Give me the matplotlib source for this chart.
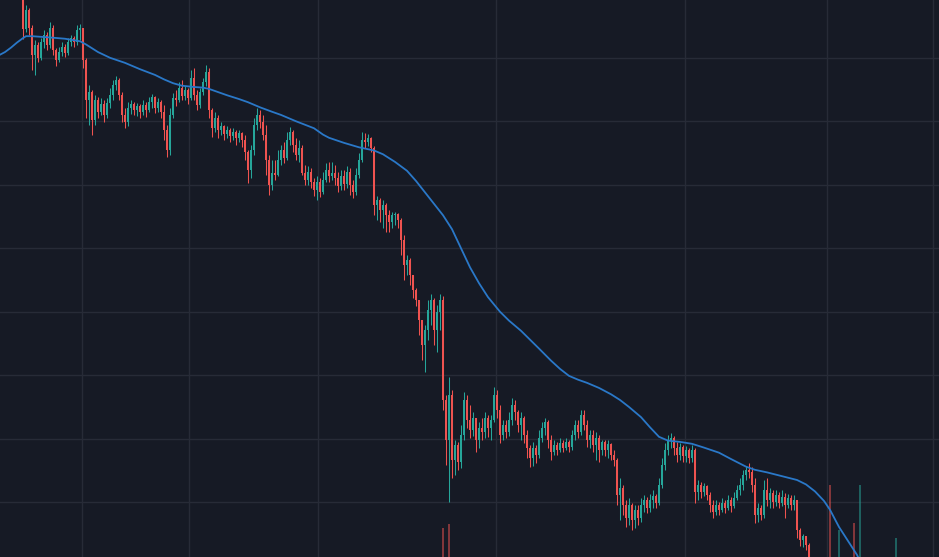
import matplotlib.pyplot as plt
import numpy as np

# price candles (open of each candle = previous close)
open_first = 100.0
close = [
    94.5, 97.5, 94.7, 90.4, 92.0, 90.0, 92.5, 93.6, 92.0, 94.7,
    91.2, 89.6, 90.9, 91.7, 90.8, 92.5, 93.1, 92.5, 94.4, 94.7,
    89.6, 83.4, 84.6, 80.2, 83.4, 81.5, 82.7, 81.0, 82.9, 84.1,
    85.7, 86.5, 84.1, 81.0, 79.9, 82.1, 82.7, 81.8, 82.4, 81.5,
    82.6, 81.8, 83.0, 83.8, 82.1, 83.0, 81.5, 78.6, 75.5, 81.0,
    83.7, 83.4, 85.2, 84.0, 84.9, 83.7, 86.8, 84.1, 82.6, 84.6,
    86.2, 87.8, 81.8, 79.0, 80.5, 78.6, 79.3, 78.0, 78.6, 77.7,
    78.3, 77.4, 78.2, 77.1, 75.2, 72.3, 75.5, 79.4, 81.0, 79.9,
    77.8, 73.9, 70.0, 71.8, 71.5, 73.9, 75.5, 74.2, 77.1, 78.3,
    76.3, 74.7, 75.8, 71.8, 70.8, 72.0, 70.4, 69.2, 70.4, 68.9,
    70.8, 72.3, 71.4, 71.8, 71.1, 69.8, 71.4, 70.1, 72.0, 70.0,
    68.9, 71.5, 73.9, 77.1, 76.7, 77.4, 75.8, 66.8, 67.6, 66.0,
    66.8, 65.2, 64.1, 65.2, 65.4, 64.5, 61.3, 57.4, 58.2, 55.8,
    53.4, 51.9, 48.7, 44.8, 47.1, 50.3, 51.9, 47.1, 50.0, 51.9,
    36.1, 29.8, 36.9, 26.7, 29.0, 26.4, 30.6, 36.1, 33.0, 31.4,
    33.3, 29.8, 31.7, 31.1, 33.3, 31.7, 33.0, 36.9, 34.5, 30.6,
    32.2, 31.1, 33.0, 35.3, 34.2, 32.2, 33.3, 30.6, 28.6, 27.0,
    28.6, 27.5, 30.1, 31.7, 32.7, 29.8, 27.9, 29.0, 28.2, 29.3,
    28.6, 29.5, 28.7, 30.6, 32.2, 31.1, 33.8, 32.2, 29.8, 30.6,
    29.0, 30.1, 28.2, 29.5, 28.2, 29.2, 27.5, 26.7, 21.2, 22.2,
    19.6, 17.5, 19.6, 17.2, 18.8, 17.5, 19.6, 20.4, 19.1, 20.4,
    21.0, 19.9, 22.7, 25.9, 28.2, 29.8, 30.1, 28.6, 27.5, 28.7,
    27.3, 28.2, 27.0, 28.2, 21.6, 22.7, 21.6, 22.6, 21.2, 19.6,
    18.5, 19.6, 18.8, 19.9, 19.1, 20.4, 19.4, 20.7, 21.9, 22.7,
    24.3, 25.1, 24.8, 22.7, 18.0, 19.1, 18.0, 21.9, 20.4, 21.5,
    20.0, 21.2, 19.9, 20.8, 19.6, 20.7, 19.6, 20.4, 15.6, 14.1,
    14.6, 13.3, 10.1, 8.0, 7.2, 7.8, 6.9, 6.0, 6.6, 4.8,
    5.5, 5.0, 6.2, 5.8, 5.3, 5.9, 5.4, 4.2, 5.1, 6.3,
    5.9, 6.4, 6.0, 6.6, 6.2, 6.8, 6.4, 6.9, 6.5, 7.0,
    6.7, 7.6, 7.3, 7.8, 7.5, 7.9,
]
high = [
    100.5, 98.3, 97.8, 95.2, 92.8, 92.5, 93.1, 94.4, 94.1, 95.6,
    95.2, 91.5, 91.7, 92.5, 92.2, 93.1, 93.6, 93.4, 95.2, 95.3,
    94.4, 90.0, 85.7, 84.9, 84.1, 83.8, 83.7, 83.4, 83.7, 85.2,
    86.5, 87.1, 86.8, 84.6, 82.1, 83.0, 83.4, 83.0, 82.9, 82.7,
    83.4, 83.0, 83.8, 84.3, 84.0, 83.7, 83.4, 82.6, 79.4, 82.1,
    84.5, 84.9, 86.2, 86.5, 85.6, 85.2, 88.1, 88.4, 84.9, 85.2,
    86.8, 88.9, 88.4, 82.1, 81.5, 81.0, 79.9, 79.4, 79.3, 79.0,
    79.0, 78.6, 78.6, 78.3, 77.8, 75.5, 76.3, 80.5, 82.1, 81.8,
    81.0, 79.4, 74.7, 73.9, 73.9, 75.5, 76.3, 76.7, 78.3, 79.1,
    78.6, 77.4, 77.1, 76.3, 73.1, 73.0, 72.6, 71.1, 71.4, 71.1,
    72.0, 73.4, 73.6, 73.6, 73.1, 72.0, 72.3, 72.3, 73.0, 72.6,
    70.8, 72.6, 75.0, 78.3, 78.2, 78.0, 77.5, 76.1, 68.2, 67.9,
    67.6, 67.1, 66.0, 65.7, 65.7, 65.5, 64.8, 62.1, 58.9, 58.5,
    55.8, 53.7, 51.9, 48.7, 47.9, 51.9, 52.8, 52.2, 51.1, 52.8,
    52.5, 36.9, 39.7, 37.7, 29.8, 29.5, 32.2, 37.4, 36.9, 35.3,
    34.2, 33.3, 32.7, 33.3, 34.2, 33.8, 33.8, 38.1, 37.7, 35.3,
    33.0, 33.0, 34.2, 36.4, 36.1, 34.5, 34.2, 33.6, 31.4, 29.0,
    29.5, 29.0, 31.4, 32.7, 33.3, 33.0, 30.6, 29.8, 29.5, 30.1,
    29.8, 30.1, 29.8, 31.4, 33.0, 33.0, 34.5, 34.5, 33.0, 31.4,
    31.4, 31.1, 30.6, 29.8, 29.8, 29.8, 29.3, 28.2, 27.0, 23.8,
    22.7, 20.4, 20.7, 19.9, 19.6, 19.6, 20.7, 21.2, 20.8, 21.3,
    21.9, 21.3, 23.8, 27.0, 29.3, 30.6, 30.9, 30.4, 29.5, 29.3,
    29.0, 28.9, 28.6, 29.0, 28.6, 23.5, 23.2, 23.0, 22.7, 21.6,
    20.4, 20.4, 20.0, 20.7, 20.4, 21.2, 20.8, 21.6, 22.7, 23.8,
    25.1, 25.7, 26.2, 25.6, 23.8, 19.9, 19.6, 23.5, 23.8, 22.3,
    21.9, 21.9, 21.6, 21.9, 21.5, 21.3, 21.2, 21.2, 20.4, 16.0,
    15.0, 14.7, 13.6, 10.0, 8.6, 8.4, 8.0, 7.2, 7.0, 6.9,
    6.1, 5.9, 6.8, 6.6, 6.0, 6.3, 6.2, 5.6, 5.7, 7.0,
    6.8, 6.9, 6.7, 7.1, 6.9, 7.3, 7.1, 7.4, 7.2, 7.5,
    7.3, 8.2, 8.0, 8.3, 8.1, 8.4,
]
low = [
    93.0, 94.1, 93.6, 88.1, 87.3, 89.3, 89.6, 91.5, 91.2, 91.5,
    90.4, 88.7, 89.3, 90.3, 90.1, 90.4, 91.9, 91.7, 92.0, 92.8,
    88.4, 80.5, 79.4, 77.8, 79.4, 80.5, 81.0, 79.9, 80.5, 82.1,
    83.4, 84.9, 83.4, 79.9, 79.0, 79.3, 81.1, 81.0, 80.8, 80.5,
    81.0, 80.7, 81.5, 82.1, 81.3, 81.5, 80.5, 77.1, 74.4, 74.7,
    80.5, 82.4, 83.0, 83.4, 83.4, 82.7, 83.4, 83.4, 81.8, 82.1,
    84.1, 85.6, 80.5, 77.5, 78.3, 77.4, 77.8, 77.1, 77.4, 76.7,
    77.1, 76.3, 76.7, 76.0, 73.9, 70.3, 71.1, 74.7, 78.6, 79.0,
    77.1, 71.5, 68.4, 69.2, 70.8, 71.4, 73.1, 73.4, 73.9, 76.3,
    75.2, 73.9, 73.6, 71.5, 70.0, 70.0, 69.5, 68.2, 67.6, 68.1,
    68.5, 70.4, 70.4, 70.8, 70.0, 68.9, 69.2, 69.2, 69.5, 68.4,
    67.9, 68.4, 71.1, 73.6, 75.8, 76.1, 75.2, 65.2, 64.5, 64.1,
    63.2, 62.6, 62.6, 63.2, 63.7, 63.2, 58.9, 55.0, 55.8, 54.2,
    52.2, 50.9, 46.3, 42.4, 40.5, 45.6, 47.9, 44.8, 43.7, 47.1,
    34.5, 25.9, 20.0, 23.8, 24.3, 25.1, 25.4, 29.8, 31.7, 30.1,
    30.4, 27.9, 28.6, 29.8, 30.1, 30.3, 29.8, 32.6, 33.3, 29.3,
    29.8, 30.1, 30.4, 32.2, 33.0, 31.1, 29.8, 29.3, 27.0, 25.6,
    25.7, 26.2, 27.0, 29.5, 30.6, 28.6, 26.7, 27.5, 27.5, 27.9,
    27.9, 28.2, 27.9, 28.2, 29.8, 30.1, 30.6, 31.4, 28.7, 28.6,
    27.9, 26.7, 26.4, 27.5, 27.3, 27.0, 26.7, 25.7, 19.6, 17.2,
    18.0, 16.1, 16.4, 15.6, 15.9, 16.4, 16.9, 18.5, 18.3, 18.5,
    19.1, 19.1, 19.6, 22.2, 25.1, 27.5, 28.6, 27.5, 26.4, 26.7,
    26.4, 26.4, 26.2, 26.4, 19.9, 20.4, 20.7, 21.0, 20.4, 18.5,
    17.5, 18.0, 18.0, 18.5, 18.3, 18.8, 18.5, 19.1, 20.4, 21.2,
    21.9, 23.5, 23.8, 21.6, 16.7, 16.9, 17.2, 17.5, 19.4, 19.1,
    19.1, 19.4, 19.1, 19.4, 17.5, 19.1, 18.8, 18.8, 14.4, 13.1,
    13.0, 12.5, 8.5, 7.0, 6.5, 6.8, 6.2, 5.1, 5.6, 3.9,
    4.5, 4.2, 4.6, 5.1, 4.7, 5.0, 4.9, 3.4, 3.8, 4.9,
    5.4, 5.6, 5.5, 5.8, 5.7, 6.0, 6.0, 6.2, 6.1, 6.3,
    6.2, 6.5, 6.9, 7.1, 7.0, 7.2,
]

# moving average, sampled along the bars
ma_pos = [-8, -6, -4, -2, 0, 1, 3, 6, 9, 14, 19, 21, 23, 25, 29, 34, 39,
          44, 47, 50, 53, 57, 60, 62, 65, 68, 72, 75, 79, 83, 86, 91, 97,
          100, 102, 107, 112, 117, 120, 124, 128, 131, 134, 137, 140, 143,
          146, 149, 152, 155, 159, 162, 166, 169, 172, 176, 179, 182, 185,
          188, 192, 196, 199, 202, 206, 209, 212, 215, 219, 223, 227, 232,
          236, 241, 244, 248, 253, 258, 261, 264, 267, 269, 272, 275, 278,
          282]
ma_val = [90.4, 90.9, 91.6, 92.4, 93.1, 93.4, 93.4, 93.3, 93.2, 93.0, 92.6,
          92.1, 91.5, 90.9, 90.0, 89.2, 88.2, 87.3, 86.6, 86.0, 85.6, 85.4,
          85.3, 85.1, 84.6, 84.1, 83.5, 83.0, 82.2, 81.5, 81.0, 80.0, 78.9,
          77.9, 77.4, 76.6, 75.9, 75.4, 74.8, 73.6, 72.2, 70.6, 68.8, 67.0,
          65.2, 63.0, 60.0, 57.0, 54.5, 52.3, 50.0, 48.6, 47.0, 45.6, 44.2,
          42.3, 41.0, 39.9, 39.3, 38.8, 38.0, 37.0, 36.1, 35.0, 33.4, 31.8,
          30.3, 29.7, 29.5, 29.2, 28.6, 27.8, 26.8, 25.6, 25.1, 24.7, 24.1,
          23.5, 22.8, 21.7, 20.2, 18.8, 16.1, 13.9, 11.7, 7.8]

# volume bars that reach into view
vol_pos = [140, 142, 269, 272, 277, 279, 291]
vol_top = [15.9, 16.5, 22.7, 15.6, 16.7, 22.7, 14.4]
vol_up = [False, False, False, True, False, True, True]

price_lines = [20, 30, 40, 50, 60, 70, 80, 90, 100]
time_lines = [19.67, 55.33, 98.33, 157.67, 220.67, 268.0, 303.33]

BG = '#161a25'
GRID = '#272b37'
UP = '#26a69a'
DOWN = '#ef5350'
MA = '#2a78c8'

c = np.array(close)
h = np.array(high)
lo = np.array(low)
o = np.concatenate([[open_first], c[:-1]])
x = np.arange(len(c))
up = c >= o
cols = np.where(up, UP, DOWN)

fig = plt.figure(figsize=(9.39, 5.57), dpi=100, facecolor=BG)
ax = fig.add_axes([0, 0, 1, 1])
ax.set_facecolor(BG)

for p in price_lines:
    ax.axhline(p, color=GRID, lw=1.0, zorder=0)
for t in time_lines:
    ax.axvline(t, color=GRID, lw=1.0, zorder=0)

# volume
vcols = [UP if u else DOWN for u in vol_up]
ax.bar(vol_pos, vol_top, width=0.5, bottom=0, color=vcols, alpha=0.5,
       linewidth=0, zorder=1)

# candles
body_lo = np.minimum(o, c)
body_hi = np.maximum(o, c)
ax.vlines(x, np.minimum(lo, body_lo), np.maximum(h, body_hi), colors=cols,
          lw=0.75, zorder=2)
ax.bar(x, np.maximum(body_hi - body_lo, 0.2), bottom=body_lo, width=0.85,
       color=cols, linewidth=0, zorder=3)

ax.plot(ma_pos, ma_val, color=MA, lw=1.3, zorder=4)

ax.set_xlim(-7.667, 305.33)
ax.set_ylim(11.37, 99.1)
ax.axis('off')

fig.savefig('out.png', dpi=100, facecolor=BG)
